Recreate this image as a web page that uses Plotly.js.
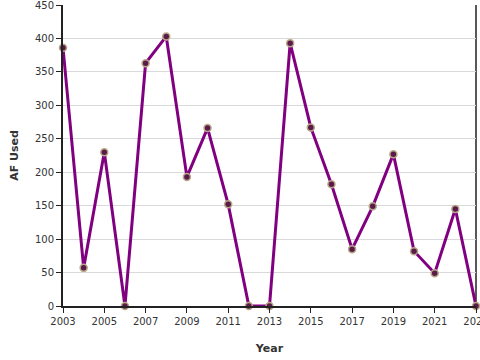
<!DOCTYPE html>
<html><head><meta charset="utf-8">
<script src="https://cdn.plot.ly/plotly-3.0.1.min.js"></script>
<style>html,body{margin:0;padding:0;background:#fff;}#chart{width:480px;height:360px;}</style>
</head><body><div id="chart"></div>
<script>
const years = [2003,2004,2005,2006,2007,2008,2009,2010,2011,2012,2013,2014,2015,2016,2017,2018,2019,2020,2021,2022,2023];
const afUsed = [386,57,230,0,363,403,193,266,152,0,0,393,267,182,85,149,227,82,49,145,0];
const xTicks = [2003,2005,2007,2009,2011,2013,2015,2017,2019,2021,2023];
const yTicks = [0,50,100,150,200,250,300,350,400,450];

const trace = {
  x: years, y: afUsed, type: 'scatter', mode: 'lines+markers',
  line: {color: '#800080', width: 3},
  marker: {color: '#5a1a4a', size: 7, line: {color: '#b8a888', width: 1.5}},
  cliponaxis: false, hoverinfo: 'none'
};
const font = {family: 'DejaVu Sans, sans-serif', size: 10, color: '#333'};
const layout = {
  width: 480, height: 360,
  margin: {l: 63, r: 4, t: 5, b: 54},
  paper_bgcolor: '#fff', plot_bgcolor: '#fff',
  showlegend: false,
  font: font,
  xaxis: {
    range: [2003, 2023], tickvals: xTicks, ticktext: xTicks.map(String),
    ticklabeloverflow: 'allow',
    showgrid: false, zeroline: false,
    showline: true, linecolor: '#222', linewidth: 2,
    ticks: 'outside', ticklen: 5, tickcolor: '#222', tickwidth: 1,
    tickfont: {family: 'DejaVu Sans, sans-serif', size: 10, color: '#333'},
    title: {text: 'Year', font: {family: 'DejaVu Sans, sans-serif', size: 11, color: '#333', weight: 'bold'}, standoff: 18}
  },
  yaxis: {
    range: [0, 450], tickvals: yTicks,
    ticklabeloverflow: 'allow',
    showgrid: true, gridcolor: '#d9d9d9', gridwidth: 1, zeroline: false,
    showline: true, linecolor: '#222', linewidth: 2,
    ticks: 'outside', ticklen: 5, tickcolor: '#222', tickwidth: 1,
    tickfont: {family: 'DejaVu Sans, sans-serif', size: 10, color: '#333'},
    title: {text: 'AF Used', font: {family: 'DejaVu Sans, sans-serif', size: 11, color: '#333', weight: 'bold'}, standoff: 14}
  },
  shapes: [{type: 'line', xref: 'paper', yref: 'paper', x0: 1, x1: 1, y0: 0, y1: 1, line: {color: '#222', width: 1.5}, layer: 'below'}]
};
Plotly.newPlot('chart', [trace], layout, {displayModeBar: false, staticPlot: true});
</script></body></html>
